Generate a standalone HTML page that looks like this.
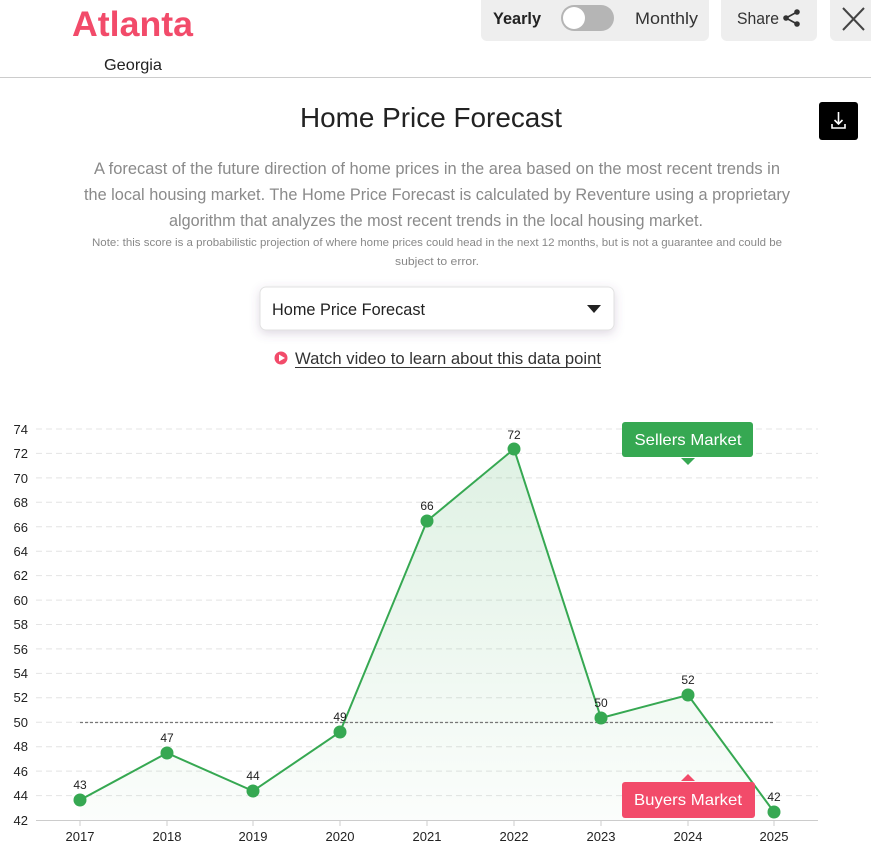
<!DOCTYPE html>
<html><head><meta charset="utf-8"><style>
html,body{margin:0;padding:0;background:#fff;width:871px;height:849px;overflow:hidden}
svg{display:block;font-family:"Liberation Sans",sans-serif}
</style></head><body>
<svg width="871" height="849" viewBox="0 0 871 849" xmlns="http://www.w3.org/2000/svg">
<defs>
<linearGradient id="g" x1="0" y1="0" x2="0" y2="1">
<stop offset="0" stop-color="#36a852" stop-opacity="0.16"/>
<stop offset="1" stop-color="#36a852" stop-opacity="0.02"/>
</linearGradient>
<filter id="sh" x="-10%" y="-30%" width="120%" height="180%"><feDropShadow dx="0" dy="3" stdDeviation="5" flood-color="#6a4a7a" flood-opacity="0.22"/></filter>
</defs>
<!-- header -->
<text x="72" y="36" font-size="35" font-weight="bold" fill="#f24b6a" textLength="121" lengthAdjust="spacingAndGlyphs">Atlanta</text>
<text x="104" y="70" font-size="16" fill="#222" textLength="58" lengthAdjust="spacingAndGlyphs">Georgia</text>
<line x1="0" y1="77.5" x2="871" y2="77.5" stroke="#ccc"/>
<rect x="481" y="-6" width="228" height="47" rx="6" fill="#eee"/>
<text x="493" y="24" font-size="17" font-weight="bold" fill="#222" textLength="48" lengthAdjust="spacingAndGlyphs">Yearly</text>
<rect x="561" y="5" width="53" height="26" rx="13" fill="#b5b5b5"/>
<circle cx="574" cy="18" r="11" fill="#fff"/>
<text x="635" y="24" font-size="17" fill="#333" textLength="63" lengthAdjust="spacingAndGlyphs">Monthly</text>
<rect x="721" y="-6" width="96" height="47" rx="6" fill="#eee"/>
<text x="737" y="24" font-size="17" fill="#333" textLength="42" lengthAdjust="spacingAndGlyphs">Share</text>
<g stroke="#333" stroke-width="1.6" fill="#333"><line x1="786" y1="18" x2="797" y2="12"/><line x1="786" y1="18" x2="797" y2="24"/><circle cx="786" cy="18" r="2"/><circle cx="797" cy="12" r="2"/><circle cx="797" cy="24" r="2"/></g>
<rect x="830" y="-6" width="50" height="47" rx="6" fill="#eee"/>
<g stroke="#444" stroke-width="2"><line x1="843" y1="8" x2="864" y2="30"/><line x1="864" y1="8" x2="843" y2="30"/></g>
<!-- title -->
<text x="431" y="127" font-size="28" fill="#222" text-anchor="middle" textLength="262" lengthAdjust="spacingAndGlyphs">Home Price Forecast</text>
<rect x="819" y="102" width="39" height="38" rx="3" fill="#000"/>
<g stroke="#fff" stroke-width="1.6" fill="none"><line x1="838.5" y1="112" x2="838.5" y2="124"/><polyline points="834.5,120 838.5,124 842.5,120"/><polyline points="832,124 832,128 845,128 845,124"/></g>
<g font-size="17" fill="#8a8a8a" text-anchor="middle">
<text x="437" y="174" textLength="686" lengthAdjust="spacingAndGlyphs">A forecast of the future direction of home prices in the area based on the most recent trends in</text>
<text x="437" y="200" textLength="706" lengthAdjust="spacingAndGlyphs">the local housing market. The Home Price Forecast is calculated by Reventure using a proprietary</text>
<text x="436" y="226" textLength="534" lengthAdjust="spacingAndGlyphs">algorithm that analyzes the most recent trends in the local housing market.</text>
</g>
<g font-size="11" fill="#888" text-anchor="middle">
<text x="437" y="246" textLength="690" lengthAdjust="spacingAndGlyphs">Note: this score is a probabilistic projection of where home prices could head in the next 12 months, but is not a guarantee and could be</text>
<text x="437" y="265" textLength="84" lengthAdjust="spacingAndGlyphs">subject to error.</text>
</g>
<rect x="260" y="287" width="354" height="43" rx="6" fill="#fff" stroke="#e2e2e2" filter="url(#sh)"/>
<text x="272" y="315" font-size="17" fill="#222" textLength="153" lengthAdjust="spacingAndGlyphs">Home Price Forecast</text>
<polygon points="587,305 601,305 594,313" fill="#222"/>
<circle cx="281" cy="358" r="6.5" fill="#f24b6a"/>
<polygon points="279,354.5 279,361.5 285,358" fill="#fff"/>
<text x="295" y="364" font-size="17" fill="#333" textLength="306" lengthAdjust="spacingAndGlyphs">Watch video to learn about this data point</text>
<line x1="295" y1="367.5" x2="601" y2="367.5" stroke="#333"/>
<!-- chart grid -->
<g stroke="#e4e4e4" stroke-dasharray="6,4" stroke-width="1">
<line x1="36" y1="429" x2="818" y2="429"/><line x1="36" y1="453.4" x2="818" y2="453.4"/><line x1="36" y1="477.9" x2="818" y2="477.9"/><line x1="36" y1="502.3" x2="818" y2="502.3"/><line x1="36" y1="526.8" x2="818" y2="526.8"/><line x1="36" y1="551.2" x2="818" y2="551.2"/><line x1="36" y1="575.6" x2="818" y2="575.6"/><line x1="36" y1="600.1" x2="818" y2="600.1"/><line x1="36" y1="624.5" x2="818" y2="624.5"/><line x1="36" y1="648.9" x2="818" y2="648.9"/><line x1="36" y1="673.4" x2="818" y2="673.4"/><line x1="36" y1="697.8" x2="818" y2="697.8"/><line x1="36" y1="722.3" x2="818" y2="722.3"/><line x1="36" y1="746.7" x2="818" y2="746.7"/><line x1="36" y1="771.1" x2="818" y2="771.1"/><line x1="36" y1="795.6" x2="818" y2="795.6"/>
</g>
<line x1="36" y1="820.5" x2="818" y2="820.5" stroke="#ccc"/>
<g stroke="#ccc"><line x1="80" y1="821" x2="80" y2="826"/><line x1="167" y1="821" x2="167" y2="826"/><line x1="253" y1="821" x2="253" y2="826"/><line x1="340" y1="821" x2="340" y2="826"/><line x1="427" y1="821" x2="427" y2="826"/><line x1="514" y1="821" x2="514" y2="826"/><line x1="601" y1="821" x2="601" y2="826"/><line x1="688" y1="821" x2="688" y2="826"/><line x1="774" y1="821" x2="774" y2="826"/></g>
<g font-size="13" fill="#222" text-anchor="end">
<text x="28" y="434">74</text><text x="28" y="458">72</text><text x="28" y="483">70</text><text x="28" y="507">68</text><text x="28" y="532">66</text><text x="28" y="556">64</text><text x="28" y="580">62</text><text x="28" y="605">60</text><text x="28" y="629">58</text><text x="28" y="654">56</text><text x="28" y="678">54</text><text x="28" y="702">52</text><text x="28" y="727">50</text><text x="28" y="751">48</text><text x="28" y="776">46</text><text x="28" y="800">44</text><text x="28" y="825">42</text>
</g>
<g font-size="13" fill="#222" text-anchor="middle">
<text x="80" y="841">2017</text><text x="167" y="841">2018</text><text x="253" y="841">2019</text><text x="340" y="841">2020</text><text x="427" y="841">2021</text><text x="514" y="841">2022</text><text x="601" y="841">2023</text><text x="688" y="841">2024</text><text x="774" y="841">2025</text>
</g>
<polygon points="80,800 167,753 253,791 340,732 427,521 514,449 601,718 688,695 774,812 774,820 80,820" fill="url(#g)"/>
<line x1="80" y1="722.5" x2="774" y2="722.5" stroke="#777" stroke-dasharray="3,2" stroke-width="1.3"/>
<polyline points="80,800 167,753 253,791 340,732 427,521 514,449 601,718 688,695 774,812" fill="none" stroke="#36a852" stroke-width="2"/>
<g fill="#36a852"><circle cx="80" cy="800" r="6.5"/><circle cx="167" cy="753" r="6.5"/><circle cx="253" cy="791" r="6.5"/><circle cx="340" cy="732" r="6.5"/><circle cx="427" cy="521" r="6.5"/><circle cx="514" cy="449" r="6.5"/><circle cx="601" cy="718" r="6.5"/><circle cx="688" cy="695" r="6.5"/><circle cx="774" cy="812" r="6.5"/></g>
<g font-size="12" fill="#222" text-anchor="middle">
<text x="80" y="789">43</text><text x="167" y="742">47</text><text x="253" y="780">44</text><text x="340" y="721">49</text><text x="427" y="510">66</text><text x="514" y="439">72</text><text x="601" y="707">50</text><text x="688" y="684">52</text><text x="774" y="801">42</text>
</g>
<rect x="622" y="422" width="131" height="35" rx="3" fill="#36a852"/>
<polygon points="681,458 695,458 688,465" fill="#36a852"/>
<text x="688" y="445" font-size="16" fill="#fff" text-anchor="middle" textLength="107" lengthAdjust="spacingAndGlyphs">Sellers Market</text>
<rect x="622" y="782" width="133" height="36" rx="3" fill="#f24b6a"/>
<polygon points="681,781 695,781 688,774" fill="#f24b6a"/>
<text x="688" y="805" font-size="16" fill="#fff" text-anchor="middle" textLength="108" lengthAdjust="spacingAndGlyphs">Buyers Market</text>
</svg>
</body></html>
